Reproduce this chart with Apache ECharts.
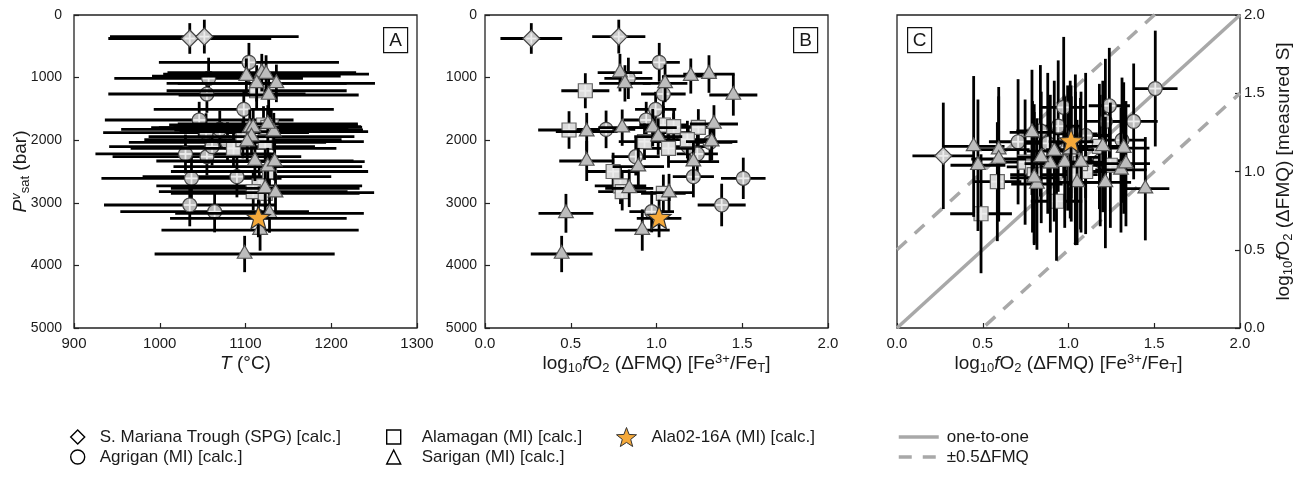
<!DOCTYPE html>
<html>
<head>
<meta charset="utf-8">
<title>Mariana fO2 comparison</title>
<script src="https://cdn.jsdelivr.net/npm/echarts@6/dist/echarts.min.js"></script>
<style>
  html, body { margin: 0; padding: 0; background: #fff; }
  #chart { width: 1301px; height: 477px; }
</style>
</head>
<body>
<div id="chart"></div>
<script>
// columns of every sample row
const columns = ['T', 'tErr', 'P', 'pErr', 'fe', 'feErr', 's', 'sErr'];

// [T degC, +/-, Pv_sat bar, +/-, log fO2 Fe3+/FeT, +/-, log fO2 measured S, +/-]
const smtRows = [
    [1035, 95, 375, 245, 0.27, 0.18, 1.10, 0.34],
    [1052, 110, 345, 270, 0.78, 0.155, null, null]
];
const agriganRows = [
    [1104, 105, 756, 310, 1.016, 0.12, 1.08, 0.40],
    [1057, 110, 1012, 330, 0.836, 0.14, 1.26, 0.42],
    [1055, 115, 1262, 300, 1.04, 0.13, 1.24, 0.38],
    [1098, 105, 1507, 280, 0.995, 0.12, 1.15, 0.40],
    [1046, 110, 1677, 290, 0.94, 0.13, 1.29, 0.42],
    [1070, 115, 1827, 300, 0.706, 0.17, 1.19, 0.40],
    [1054, 120, 1880, 310, 1.10, 0.13, 1.23, 0.40],
    [1055, 110, 2263, 300, 0.879, 0.14, 1.18, 0.45],
    [1030, 105, 2220, 310, 1.238, 0.12, 1.42, 0.37],
    [1079, 115, 2035, 320, 1.312, 0.13, 1.20, 0.40],
    [1061, 120, 2103, 300, 1.185, 0.12, 1.07, 0.42],
    [1090, 110, 2583, 330, 1.215, 0.12, 1.32, 0.40],
    [1037, 105, 2609, 330, 1.506, 0.13, 1.53, 0.37],
    [1035, 100, 3035, 340, 1.38, 0.14, 1.32, 0.37],
    [1064, 110, 3142, 330, 0.972, 0.13, 1.41, 0.45]
];
const alamaganRows = [
    [1113, 105, 1210, 280, 0.585, 0.14, 0.935, 0.38],
    [1127, 110, 1837, 300, 0.49, 0.18, 0.73, 0.38],
    [1128, 115, 2500, 300, 0.747, 0.15, 1.06, 0.40],
    [1116, 120, 2730, 290, 0.79, 0.15, 1.03, 0.42],
    [1109, 110, 2822, 300, 0.80, 0.14, 0.98, 0.45],
    [1123, 115, 2024, 290, 0.93, 0.15, 0.81, 0.38],
    [1121, 110, 1757, 300, 1.04, 0.14, 1.09, 0.42],
    [1130, 105, 1784, 280, 1.10, 0.13, 1.00, 0.40],
    [1086, 120, 2130, 310, 1.07, 0.14, 1.05, 0.42],
    [1126, 110, 1794, 290, 1.244, 0.12, 1.04, 0.40],
    [1097, 115, 1990, 300, 1.18, 0.14, 1.16, 0.40],
    [1123, 110, 2850, 300, 1.04, 0.13, 0.98, 0.45]
];
const sariganRows = [
    [1119, 110, 921, 300, 0.787, 0.13, 1.25, 0.40],
    [1113, 105, 1092, 290, 0.816, 0.15, 0.92, 0.42],
    [1136, 115, 1092, 300, 1.05, 0.13, 0.93, 0.40],
    [1101, 110, 975, 280, 1.20, 0.15, 1.16, 0.42],
    [1124, 120, 943, 300, 1.306, 0.15, 1.01, 0.40],
    [1127, 105, 1278, 330, 1.448, 0.14, 0.89, 0.33],
    [1133, 110, 1864, 300, 0.593, 0.18, 1.14, 0.40],
    [1105, 115, 1800, 290, 0.80, 0.14, 0.96, 0.42],
    [1109, 110, 1800, 300, 0.978, 0.14, 1.06, 0.42],
    [1107, 120, 1944, 290, 1.01, 0.14, 1.14, 0.44],
    [1126, 105, 1741, 300, 1.335, 0.14, 1.05, 0.40],
    [1102, 110, 2024, 300, 1.322, 0.15, 1.15, 0.42],
    [1111, 115, 2332, 320, 0.593, 0.16, 1.08, 0.40],
    [1126, 110, 2423, 300, 0.894, 0.15, 1.05, 0.44],
    [1134, 105, 2343, 300, 1.215, 0.15, 0.93, 0.42],
    [1123, 110, 2768, 300, 0.841, 0.14, 1.09, 0.42],
    [1135, 115, 2838, 300, 1.073, 0.14, 1.06, 0.45],
    [1128, 110, 3168, 310, 0.472, 0.16, 1.04, 0.42],
    [1117, 115, 3435, 330, 0.917, 0.16, 1.13, 0.45],
    [1099, 105, 3818, 290, 0.447, 0.18, 1.16, 0.45]
];
const ala0216Rows = [
    [1115, 103, 3250, 300, 1.015, 0.13, 1.19, 0.36]
];

// axis ranges and ticks
const tempAxis = [900, 1300, 100];
const pressureAxis = [0, 5000, 1000];
const fo2Axis = [0, 2, 0.5];
const oneToOne = [0, 2];
const fmqOffsets = [-0.5, 0.5];
const panelTags = ['A', 'B', 'C'];

const FONT = 'Liberation Sans, Arial, Helvetica, sans-serif';
const INK = '#1a1a1a';
const REF_GREY = '#a8a8a8';

const groups = [
    { name: 'S. Mariana Trough (SPG) [calc.]', rows: smtRows, shape: 'diamond', fill: '#c9c9c9', edge: '#444', size: 17, icon: 'diamond' },
    { name: 'Agrigan (MI) [calc.]', rows: agriganRows, shape: 'circle', fill: '#b9b9b9', edge: '#444', size: 14, icon: 'circle' },
    { name: 'Alamagan (MI) [calc.]', rows: alamaganRows, shape: 'square', fill: '#dcdcdc', edge: '#666', size: 14, icon: 'rect' },
    { name: 'Sarigan (MI) [calc.]', rows: sariganRows, shape: 'triangle', fill: '#bdbdbd', edge: '#555', size: 17, icon: 'triangle' },
    { name: 'Ala02-16A (MI) [calc.]', rows: ala0216Rows, shape: 'star', fill: '#f5a93a', edge: '#333', size: 25, icon: 'star' }
];

// which columns each panel plots
const panels = [
    { x: 'T', xe: 'tErr', y: 'P', ye: 'pErr' },
    { x: 'fe', xe: 'feErr', y: 'P', ye: 'pErr' },
    { x: 'fe', xe: 'feErr', y: 's', ye: 'sErr' }
];

const grids = [
    { left: 74, top: 15, width: 343, height: 313 },
    { left: 485, top: 15, width: 343, height: 313 },
    { left: 897, top: 15, width: 343, height: 313 }
];

function starPoints(cx, cy, R, r) {
    const pts = [];
    for (let k = 0; k < 10; k++) {
        const a = -Math.PI / 2 + k * Math.PI / 5;
        const rad = k % 2 === 0 ? R : r;
        pts.push([cx + rad * Math.cos(a), cy + rad * Math.sin(a)]);
    }
    return pts;
}

function errorBars(params, api) {
    const x = api.value(0), y = api.value(1), ex = api.value(2), ey = api.value(3);
    const h0 = api.coord([x - ex, y]), h1 = api.coord([x + ex, y]);
    const v0 = api.coord([x, y - ey]), v1 = api.coord([x, y + ey]);
    const st = { stroke: '#000', lineWidth: 2.8 };
    return {
        type: 'group',
        children: [
            { type: 'line', shape: { x1: h0[0], y1: h0[1], x2: h1[0], y2: h1[1] }, style: st },
            { type: 'line', shape: { x1: v0[0], y1: v0[1], x2: v1[0], y2: v1[1] }, style: st }
        ]
    };
}

function markerRenderer(g) {
    return function (params, api) {
        const c = api.coord([api.value(0), api.value(1)]);
        const r = g.size / 2;
        const st = { fill: g.fill, stroke: g.edge, lineWidth: 1.2 };
        let body;
        let cross = r * 0.85;
        if (g.shape === 'circle') {
            body = { type: 'circle', shape: { cx: c[0], cy: c[1], r: r }, style: st };
        } else if (g.shape === 'square') {
            body = { type: 'rect', shape: { x: c[0] - r, y: c[1] - r, width: 2 * r, height: 2 * r }, style: st };
        } else if (g.shape === 'diamond') {
            body = { type: 'polygon', shape: { points: [[c[0], c[1] - r], [c[0] + r, c[1]], [c[0], c[1] + r], [c[0] - r, c[1]]] }, style: st };
            cross = r * 0.6;
        } else if (g.shape === 'triangle') {
            body = { type: 'polygon', shape: { points: [[c[0], c[1] - r], [c[0] + r * 0.866, c[1] + r * 0.5], [c[0] - r * 0.866, c[1] + r * 0.5]] }, style: st };
            cross = 0;
        } else {
            body = { type: 'polygon', shape: { points: starPoints(c[0], c[1], r, r * 0.42) }, style: st };
            cross = 0;
        }
        const children = [body];
        if (cross > 0) {
            const cs = { stroke: '#ececec', lineWidth: 1.8 };
            children.push({ type: 'line', shape: { x1: c[0] - cross, y1: c[1], x2: c[0] + cross, y2: c[1] }, style: cs });
            children.push({ type: 'line', shape: { x1: c[0], y1: c[1] - cross, x2: c[0], y2: c[1] + cross }, style: cs });
        }
        return { type: 'group', children: children };
    };
}

const solidRef = { color: REF_GREY, width: 3.5 };
const dashedRef = { color: REF_GREY, width: 3.5, type: [13, 11] };

const series = [];
series.push({
    type: 'line', name: 'one-to-one', xAxisIndex: 2, yAxisIndex: 2, z: 1, silent: true, color: REF_GREY,
    data: oneToOne.map(v => [v, v]), symbol: 'none', lineStyle: solidRef
});
fmqOffsets.forEach(off => {
    series.push({
        type: 'line', name: '±0.5ΔFMQ', xAxisIndex: 2, yAxisIndex: 2, z: 1, silent: true, color: REF_GREY,
        data: oneToOne.map(v => [v, v + off]), symbol: 'none', lineStyle: dashedRef
    });
});

panels.forEach((p, pi) => {
    const xi = columns.indexOf(p.x), xei = columns.indexOf(p.xe);
    const yi = columns.indexOf(p.y), yei = columns.indexOf(p.ye);
    groups.forEach(g => {
        const data = g.rows.filter(r => r[yi] !== null).map(r => [r[xi], r[yi], r[xei], r[yei]]);
        const common = {
            type: 'custom', name: g.name, xAxisIndex: pi, yAxisIndex: pi, z: 3, silent: true,
            dimensions: ['x', 'y', 'ex', 'ey'], encode: { x: 'x', y: 'y' }, data: data
        };
        series.push(Object.assign({}, common, { renderItem: errorBars }));
        series.push(Object.assign({}, common, { renderItem: markerRenderer(g) }));
    });
});

const TITLE_SIZE = 19;
const titleRich = {
    i: { fontStyle: 'italic', fontSize: TITLE_SIZE, lineHeight: 22, fontFamily: FONT, color: INK },
    sub: { fontSize: 13, lineHeight: 13, verticalAlign: 'bottom', fontFamily: FONT, color: INK },
    sup: { fontSize: 13, lineHeight: 13, verticalAlign: 'top', fontFamily: FONT, color: INK },
    supi: { fontSize: 13, lineHeight: 13, verticalAlign: 'top', fontStyle: 'italic', fontFamily: FONT, color: INK }
};
const titleStyle = { fontSize: TITLE_SIZE, lineHeight: 22, fontFamily: FONT, color: INK, rich: titleRich };
const tickLabel = { fontSize: 15, fontFamily: FONT, color: INK };
const yTickLabel = { fontSize: 14, fontFamily: FONT, color: INK };
const tickStyle = { show: true, inside: true, length: 5, lineStyle: { color: '#222', width: 1.2 } };
const noLine = { show: false, onZero: false };
const fo2Title = 'log{sub|10}{i|f}O{sub|2} (ΔFMQ) [Fe{sup|3+}/Fe{sub|T}]';

function fo2Label(v) { return v.toFixed(1); }
function plainLabel(v) { return String(v); }

const xAxis = [
    {
        gridIndex: 0, type: 'value', min: tempAxis[0], max: tempAxis[1], interval: tempAxis[2],
        name: '{i|T} (°C)', nameLocation: 'middle', nameGap: 25, nameMoveOverlap: false, nameTextStyle: titleStyle,
        axisLine: noLine, axisTick: tickStyle, splitLine: { show: false },
        axisLabel: Object.assign({ margin: 8, formatter: plainLabel }, tickLabel)
    },
    {
        gridIndex: 1, type: 'value', min: fo2Axis[0], max: fo2Axis[1], interval: fo2Axis[2],
        name: fo2Title, nameLocation: 'middle', nameGap: 25, nameMoveOverlap: false, nameTextStyle: titleStyle,
        axisLine: noLine, axisTick: tickStyle, splitLine: { show: false },
        axisLabel: Object.assign({ margin: 8, formatter: fo2Label }, tickLabel)
    },
    {
        gridIndex: 2, type: 'value', min: fo2Axis[0], max: fo2Axis[1], interval: fo2Axis[2],
        name: fo2Title, nameLocation: 'middle', nameGap: 25, nameMoveOverlap: false, nameTextStyle: titleStyle,
        axisLine: noLine, axisTick: tickStyle, splitLine: { show: false },
        axisLabel: Object.assign({ margin: 8, formatter: fo2Label }, tickLabel)
    }
];

const yAxis = [
    {
        gridIndex: 0, type: 'value', inverse: true, min: pressureAxis[0], max: pressureAxis[1], interval: pressureAxis[2],
        name: '{i|P}{supi|v}{sub|sat} (bar)', nameLocation: 'middle', nameGap: 42, nameRotate: 90,
        nameMoveOverlap: false, nameTextStyle: titleStyle,
        axisLine: noLine, axisTick: tickStyle, splitLine: { show: false },
        axisLabel: Object.assign({ margin: 12, formatter: plainLabel }, yTickLabel)
    },
    {
        gridIndex: 1, type: 'value', inverse: true, min: pressureAxis[0], max: pressureAxis[1], interval: pressureAxis[2],
        axisLine: noLine, axisTick: tickStyle, splitLine: { show: false },
        axisLabel: Object.assign({ margin: 8, formatter: plainLabel }, yTickLabel)
    },
    {
        gridIndex: 2, type: 'value', position: 'right', min: fo2Axis[0], max: fo2Axis[1], interval: fo2Axis[2],
        name: 'log{sub|10}{i|f}O{sub|2} (ΔFMQ) [measured S]', nameLocation: 'middle', nameGap: 33, nameRotate: 90,
        nameMoveOverlap: false, nameTextStyle: titleStyle,
        axisLine: noLine, axisTick: tickStyle, splitLine: { show: false },
        axisLabel: Object.assign({ margin: 4, formatter: fo2Label }, tickLabel)
    }
];

const starPath = 'path://' + starPoints(10, 10, 10, 4.2).map((pt, k) => (k ? 'L' : 'M') + pt[0].toFixed(2) + ' ' + pt[1].toFixed(2)).join(' ') + ' Z';
const legendMarker = { color: '#fff', borderColor: '#000', borderWidth: 1.4 };
const LEGEND_TEXT = { fontSize: 17, fontFamily: FONT, color: INK, lineHeight: 20 };
function legendItem(g) {
    return {
        name: g.name,
        icon: g.icon === 'star' ? starPath : g.icon,
        itemStyle: g.icon === 'star' ? { color: g.fill, borderColor: '#333', borderWidth: 1 } : legendMarker
    };
}
function legendBox(left, names, gap, size) {
    return {
        left: left, top: 427, orient: 'vertical', itemGap: 0, itemWidth: size, itemHeight: size,
        selectedMode: false, padding: 0,
        formatter: name => '{g| }' + name,
        textStyle: Object.assign({ rich: { g: { width: gap } } }, LEGEND_TEXT),
        data: names
    };
}

const legend = [
    legendBox(70, [legendItem(groups[0]), legendItem(groups[1])], 10, 14),
    legendBox(386, [legendItem(groups[2]), legendItem(groups[3])], 16, 14),
    legendBox(616, [legendItem(groups[4])], 10, 20),
    {
        left: 897, top: 427, orient: 'vertical', itemGap: 0, itemWidth: 40, itemHeight: 20,
        selectedMode: false, padding: 0,
        formatter: name => '{g| }' + name,
        textStyle: Object.assign({ rich: { g: { width: 3 } } }, LEGEND_TEXT),
        itemStyle: { opacity: 0 },
        data: [
            { name: 'one-to-one', itemStyle: { opacity: 0 }, lineStyle: solidRef },
            { name: '±0.5ΔFMQ', itemStyle: { opacity: 0 }, lineStyle: dashedRef }
        ]
    }
];

const tagPos = [
    [grids[0].left + grids[0].width - 34, grids[0].top + 12],
    [grids[1].left + grids[1].width - 35, grids[1].top + 12],
    [grids[2].left + 10, grids[2].top + 12]
];
const graphic = panelTags.map((t, i) => ({
    type: 'group', left: tagPos[i][0], top: tagPos[i][1],
    children: [
        { type: 'rect', shape: { x: 0, y: 0, width: 24, height: 25 }, style: { fill: '#fff', stroke: '#111', lineWidth: 1.2 } },
        {
            type: 'text', x: 12, y: 13,
            style: { text: t, fontSize: 19, fontFamily: FONT, fill: INK, align: 'center', verticalAlign: 'middle', textAlign: 'center', textVerticalAlign: 'middle' }
        }
    ]
}));

const chart = echarts.init(document.getElementById('chart'), null, { renderer: 'canvas' });
chart.setOption({
    animation: false,
    backgroundColor: '#fff',
    grid: grids.map(g => Object.assign({ show: true, borderColor: '#222', borderWidth: 1.3, backgroundColor: 'transparent', containLabel: false }, g)),
    xAxis: xAxis,
    yAxis: yAxis,
    legend: legend,
    graphic: graphic,
    series: series
});
</script>
</body>
</html>
